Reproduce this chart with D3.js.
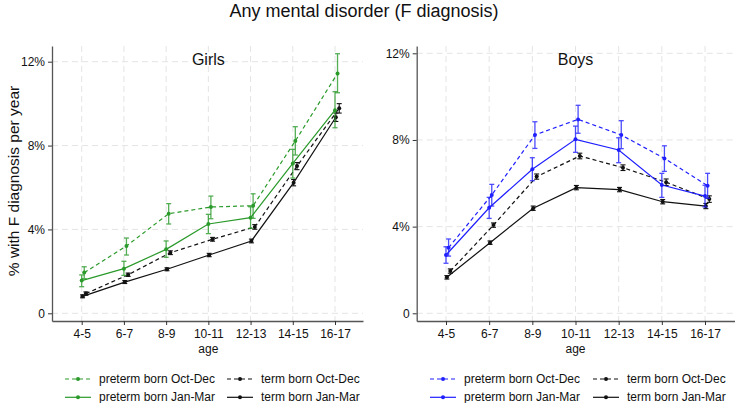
<!DOCTYPE html>
<html>
<head>
<meta charset="utf-8">
<script src="https://cdn.jsdelivr.net/npm/d3@7"></script>
<style>
    body { margin: 0; background: #fff; }
    text { font-family: "Liberation Sans", Arial, sans-serif; fill: #111; }
</style>
</head>
<body>
<div class="chart"></div>
<script>
var ages = ["4-5", "6-7", "8-9", "10-11", "12-13", "14-15", "16-17"];
var yTicks = [0, 4, 8, 12];

// Girls
var girlsPretermOct = [1.94, 3.21, 4.75, 5.07, 5.13, 8.22, 11.44];
var girlsPretermOctLo = [1.65, 2.78, 4.26, 4.51, 4.53, 7.55, 10.52];
var girlsPretermOctHi = [2.22, 3.59, 5.23, 5.59, 5.70, 8.90, 12.38];
var girlsPretermJan = [1.56, 2.13, 3.05, 4.26, 4.56, 7.15, 9.69];
var girlsPretermJanLo = [1.27, 1.81, 2.67, 3.80, 4.05, 6.45, 8.85];
var girlsPretermJanHi = [1.83, 2.48, 3.45, 4.72, 5.08, 7.82, 10.57];
var girlsTermOct = [0.94, 1.84, 2.89, 3.53, 4.12, 7.02, 9.78];
var girlsTermOctLo = [0.86, 1.76, 2.80, 3.44, 4.01, 6.85, 9.55];
var girlsTermOctHi = [1.02, 1.92, 2.98, 3.62, 4.23, 7.19, 10.00];
var girlsTermJan = [0.81, 1.49, 2.10, 2.78, 3.45, 6.23, 9.35];
var girlsTermJanLo = [0.74, 1.42, 2.03, 2.70, 3.36, 6.08, 9.15];
var girlsTermJanHi = [0.88, 1.56, 2.17, 2.86, 3.54, 6.38, 9.55];

// Boys
var boysPretermOct = [3.03, 5.46, 8.23, 8.95, 8.23, 7.15, 5.89];
var boysPretermOctLo = [2.64, 4.95, 7.61, 8.31, 7.60, 6.55, 5.31];
var boysPretermOctHi = [3.43, 5.95, 8.84, 9.60, 8.89, 7.73, 6.46];
var boysPretermJan = [2.69, 4.87, 6.65, 8.03, 7.54, 5.92, 5.41];
var boysPretermJanLo = [2.31, 4.38, 6.12, 7.43, 6.95, 5.35, 4.91];
var boysPretermJanHi = [3.07, 5.35, 7.18, 8.64, 8.10, 6.46, 5.91];
var boysTermOct = [1.95, 4.07, 6.31, 7.26, 6.72, 6.05, 5.27];
var boysTermOctLo = [1.85, 3.97, 6.19, 7.13, 6.59, 5.90, 5.12];
var boysTermOctHi = [2.05, 4.17, 6.43, 7.39, 6.85, 6.20, 5.42];
var boysTermJan = [1.66, 3.26, 4.85, 5.80, 5.71, 5.15, 4.95];
var boysTermJanLo = [1.58, 3.18, 4.75, 5.70, 5.61, 5.05, 4.83];
var boysTermJanHi = [1.74, 3.34, 4.95, 5.90, 5.81, 5.25, 5.07];

var legendLabels = ["preterm born Oct-Dec", "term born Oct-Dec", "preterm born Jan-Mar", "term born Jan-Mar"];

var green = "#2a9a2a";
var blue = "#1f1fff";
var black = "#111111";

var svg = d3.select(".chart").append("svg")
    .attr("width", 735).attr("height", 403);

svg.append("text")
    .attr("x", 364).attr("y", 17)
    .attr("text-anchor", "middle")
    .style("font-size", "18px")
    .text("Any mental disorder (F diagnosis)");

svg.append("text")
    .attr("transform", "translate(19, 181) rotate(-90)")
    .attr("text-anchor", "middle")
    .style("font-size", "15.5px")
    .text("% with F diagnosis per year");

function drawPanel(cfg) {
    var y = d3.scaleLinear().domain([0, 12]).range([313.3, cfg.y12]);
    var top = 46, bottom = 321;
    var yFull = d3.scaleLinear()
        .domain([y.invert(bottom), y.invert(top)])
        .range([bottom, top]);
    var x0 = d3.scaleLinear().domain([0, 6]).range([cfg.x0, cfg.x6]);
    var xFull = d3.scaleLinear()
        .domain([x0.invert(cfg.left), x0.invert(cfg.right)])
        .range([cfg.left, cfg.right]);

    var g = svg.append("g");

    // grid
    g.selectAll(".hgrid").data(yTicks).enter().append("line")
        .attr("x1", cfg.left).attr("x2", cfg.right)
        .attr("y1", d => y(d)).attr("y2", d => y(d))
        .attr("stroke", "#e4e4e4").attr("stroke-width", 1)
        .attr("stroke-dasharray", "6,4");
    g.selectAll(".vgrid").data(ages).enter().append("line")
        .attr("x1", (d, i) => x0(i)).attr("x2", (d, i) => x0(i))
        .attr("y1", top).attr("y2", bottom)
        .attr("stroke", "#e4e4e4").attr("stroke-width", 1)
        .attr("stroke-dasharray", "6,4");

    // axes
    var yAxis = d3.axisLeft(yFull).tickValues(yTicks).tickSize(4).tickSizeOuter(0).tickPadding(3)
        .tickFormat(d => d === 0 ? "0" : d + "%");
    var ya = g.append("g").attr("transform", `translate(${cfg.left},0)`).call(yAxis);
    var xAxis = d3.axisBottom(xFull).tickValues(d3.range(7)).tickSize(4).tickSizeOuter(0).tickPadding(4)
        .tickFormat(i => ages[i]);
    var xa = g.append("g").attr("transform", `translate(0,${bottom})`).call(xAxis);
    [ya, xa].forEach(function(a) {
        a.select(".domain").attr("stroke", "#555").attr("stroke-width", 1.3);
        a.selectAll(".tick line").attr("stroke", "#333");
        a.selectAll(".tick text").style("font-size", "12px").attr("fill", "#111")
            .style("font-family", "'Liberation Sans', Arial, sans-serif");
    });

    g.append("text")
        .attr("x", x0(3)).attr("y", 353)
        .attr("text-anchor", "middle").style("font-size", "12px")
        .text("age");

    g.append("text")
        .attr("x", x0(3)).attr("y", 65)
        .attr("text-anchor", "middle").style("font-size", "16px")
        .text(cfg.title);

    // series
    cfg.series.forEach(function(s) {
        var pts = s.vals.map((v, i) => ({ x: x0(i + s.off), v: v, lo: s.lo[i], hi: s.hi[i] }));
        var line = d3.line().x(d => d.x).y(d => y(d.v));
        g.append("path").datum(pts)
            .attr("d", line)
            .attr("fill", "none").attr("stroke", s.color).attr("stroke-width", 1.2)
            .attr("stroke-dasharray", s.dash ? "4,3" : null);
        var eb = g.append("g").attr("stroke", s.color).attr("stroke-width", s.color === black ? 1.1 : 1.3)
            .attr("opacity", s.color === black ? 1 : 0.8);
        eb.selectAll(".v").data(pts).enter().append("line")
            .attr("x1", d => d.x).attr("x2", d => d.x)
            .attr("y1", d => y(d.lo)).attr("y2", d => y(d.hi));
        eb.selectAll(".lc").data(pts).enter().append("line")
            .attr("x1", d => d.x - 2.5).attr("x2", d => d.x + 2.5)
            .attr("y1", d => y(d.lo)).attr("y2", d => y(d.lo));
        eb.selectAll(".hc").data(pts).enter().append("line")
            .attr("x1", d => d.x - 2.5).attr("x2", d => d.x + 2.5)
            .attr("y1", d => y(d.hi)).attr("y2", d => y(d.hi));
        g.selectAll(null).data(pts).enter().append("circle")
            .attr("cx", d => d.x).attr("cy", d => y(d.v))
            .attr("r", 2).attr("fill", s.color);
    });

    // legend
    var leg = [
        { label: legendLabels[0], color: cfg.color, dash: true, col: 0, row: 0 },
        { label: legendLabels[1], color: black, dash: true, col: 1, row: 0 },
        { label: legendLabels[2], color: cfg.color, dash: false, col: 0, row: 1 },
        { label: legendLabels[3], color: black, dash: false, col: 1, row: 1 }
    ];
    leg.forEach(function(l) {
        var lx = cfg.legX[l.col];
        var ly = 379 + l.row * 18.3;
        g.append("line")
            .attr("x1", lx).attr("x2", lx + 26)
            .attr("y1", ly).attr("y2", ly)
            .attr("stroke", l.color).attr("stroke-width", 1.2)
            .attr("stroke-dasharray", l.dash ? "4,3" : null);
        g.append("circle").attr("cx", lx + 13).attr("cy", ly).attr("r", 2).attr("fill", l.color);
        g.append("text")
            .attr("x", lx + 34).attr("y", ly + 4)
            .style("font-size", "12px")
            .text(l.label);
    });
}

drawPanel({
    title: "Girls", left: 52, right: 363, x0: 81.7, x6: 335, y12: 61.7,
    color: green, legX: [65, 227],
    series: [
        { vals: girlsTermJan, lo: girlsTermJanLo, hi: girlsTermJanHi, color: black, dash: false, off: 0.02 },
        { vals: girlsTermOct, lo: girlsTermOctLo, hi: girlsTermOctHi, color: black, dash: true, off: 0.1 },
        { vals: girlsPretermJan, lo: girlsPretermJanLo, hi: girlsPretermJanHi, color: green, dash: false, off: 0 },
        { vals: girlsPretermOct, lo: girlsPretermOctLo, hi: girlsPretermOctHi, color: green, dash: true, off: 0.06 }
    ]
});

drawPanel({
    title: "Boys", left: 416.7, right: 735, x0: 446, x6: 705, y12: 53.3,
    color: blue, legX: [430, 593],
    series: [
        { vals: boysTermJan, lo: boysTermJanLo, hi: boysTermJanHi, color: black, dash: false, off: 0.02 },
        { vals: boysTermOct, lo: boysTermOctLo, hi: boysTermOctHi, color: black, dash: true, off: 0.1 },
        { vals: boysPretermJan, lo: boysPretermJanLo, hi: boysPretermJanHi, color: blue, dash: false, off: 0 },
        { vals: boysPretermOct, lo: boysPretermOctLo, hi: boysPretermOctHi, color: blue, dash: true, off: 0.06 }
    ]
});
</script>
</body>
</html>
